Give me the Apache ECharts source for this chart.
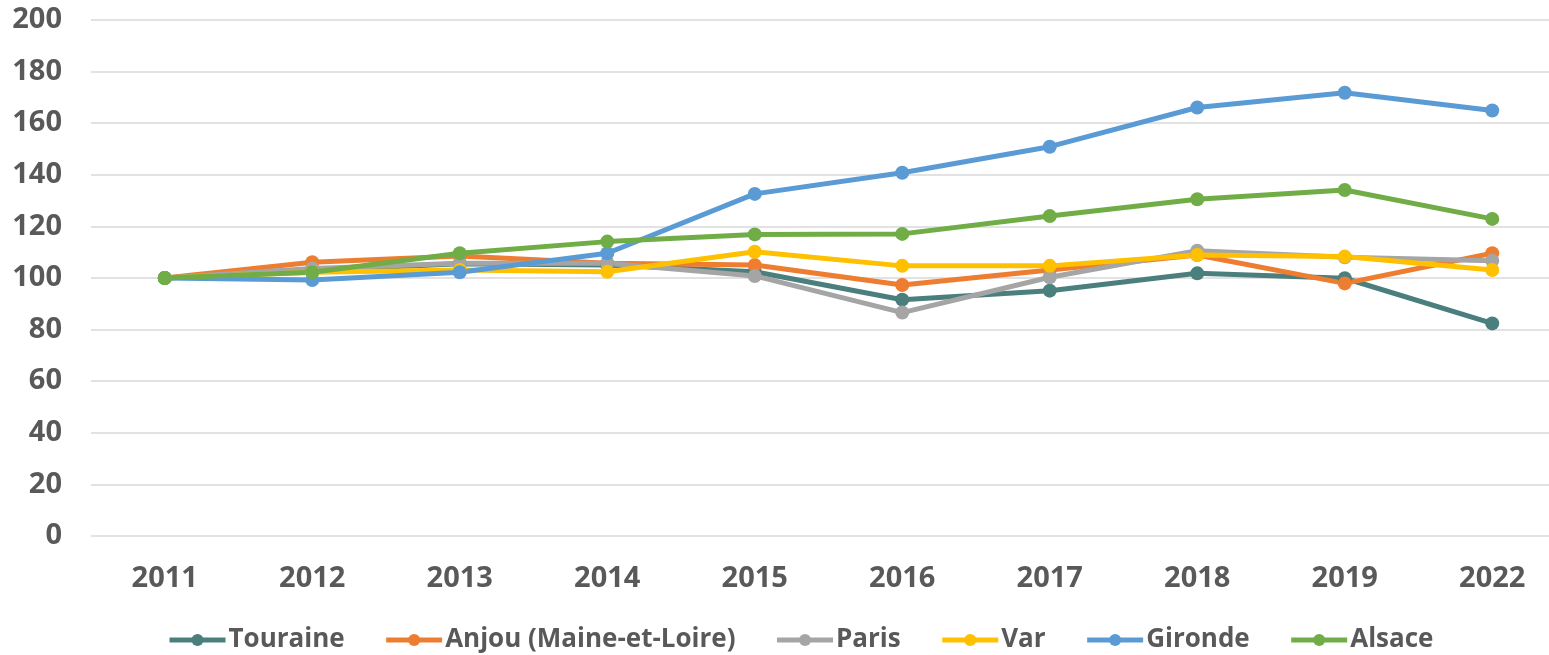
<!DOCTYPE html>
<html>
<head>
<meta charset="utf-8">
<script src="https://cdn.jsdelivr.net/npm/echarts@6/dist/echarts.min.js"></script>
<style>
  html, body { margin: 0; padding: 0; background: #fff; }
  #chart { width: 1549px; height: 655px; }
</style>
</head>
<body>
<div id="chart"></div>
<script>
var years = ['2011', '2012', '2013', '2014', '2015', '2016', '2017', '2018', '2019', '2022'];

var touraine = [100, 103, 105.5, 105, 102.4, 91.6, 95.1, 101.8, 99.9, 82.4];
var anjou    = [100, 106.1, 108.5, 105.7, 105.0, 97.3, 103.1, 108.9, 97.9, 109.6];
var paris    = [100, 103.7, 105.7, 105.7, 100.8, 86.6, 100.3, 110.6, 108.0, 106.7];
var varDep   = [100, 102.2, 103.1, 102.4, 110.2, 104.7, 104.7, 108.9, 108.3, 103.1];
var gironde  = [100, 99.2, 102.2, 109.6, 132.6, 140.8, 150.9, 166.1, 171.8, 164.9];
var alsace   = [100, 102.2, 109.6, 114.1, 116.9, 117.1, 124.0, 130.5, 134.1, 122.9];

var yTicks = { min: 0, max: 200, interval: 20 };

var myChart = echarts.init(document.getElementById('chart'));

function line(name, data, color) {
    return {
        name: name,
        type: 'line',
        data: data,
        symbol: 'circle',
        symbolSize: 14,
        lineStyle: { width: 5, color: color },
        itemStyle: { color: color },
        emphasis: { disabled: true }
    };
}

var font = '"Open Sans", "Liberation Sans", sans-serif';

var option = {
    animation: false,
    color: ['#4A7F7E', '#ED7D31', '#A5A5A5', '#FFC000', '#5B9BD5', '#70AD47'],
    grid: {
        left: 91,
        top: 20,
        right: -17,
        bottom: 119,
        outerBoundsMode: 'none',
        containLabel: false
    },
    legend: {
        top: 622,
        left: 162,
        itemWidth: 56,
        itemHeight: 15,
        itemGap: 39,
        lineStyle: { width: 5 },
        textStyle: { fontFamily: font, fontSize: 26, fontWeight: 'bold', color: '#595959', padding: [0, 0, 0, -2] },
        data: ['Touraine', 'Anjou (Maine-et-Loire)', 'Paris', 'Var', 'Gironde', 'Alsace']
    },
    xAxis: {
        type: 'category',
        data: years,
        boundaryGap: true,
        axisLine: { show: false },
        axisTick: { show: false },
        axisLabel: { fontFamily: font, fontSize: 29, fontWeight: 'bold', color: '#595959', margin: 28 }
    },
    yAxis: {
        type: 'value',
        min: yTicks.min,
        max: yTicks.max,
        interval: yTicks.interval,
        axisLine: { show: false },
        axisTick: { show: false },
        splitLine: { lineStyle: { color: '#D9D9D9', width: 1.5 } },
        axisLabel: { fontFamily: font, fontSize: 29, fontWeight: 'bold', color: '#595959', margin: 29 }
    },
    series: [
        line('Touraine', touraine, '#4A7F7E'),
        line('Anjou (Maine-et-Loire)', anjou, '#ED7D31'),
        line('Paris', paris, '#A5A5A5'),
        line('Var', varDep, '#FFC000'),
        line('Gironde', gironde, '#5B9BD5'),
        line('Alsace', alsace, '#70AD47')
    ]
};

myChart.setOption(option);
</script>
</body>
</html>
